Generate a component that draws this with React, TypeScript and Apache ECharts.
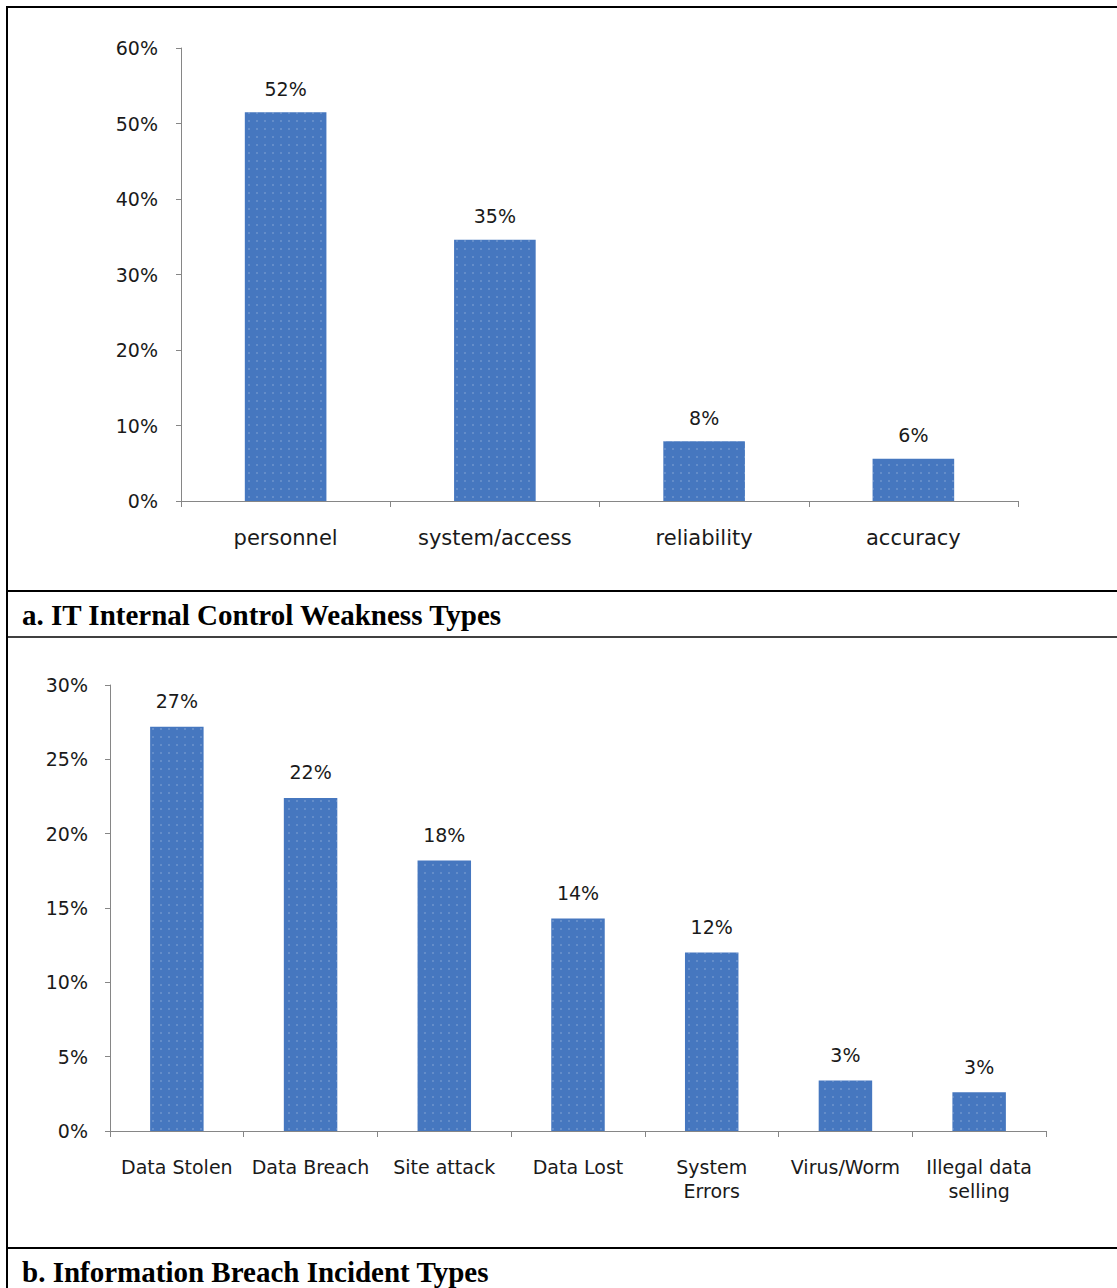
import React, { useEffect, useRef } from "react";
import * as echarts from "echarts";

const catsA = ["personnel", "system/access", "reliability", "accuracy"];
const valsA = [51.5, 34.6, 7.9, 5.6];
const catsB = ["Data Stolen", "Data Breach", "Site attack", "Data Lost", "System\nErrors", "Virus/Worm", "Illegal data\nselling"];
const valsB = [27.2, 22.4, 18.2, 14.3, 12.0, 3.4, 2.6];
const captionA = "a. IT Internal Control Weakness Types";
const captionB = "b. Information Breach Incident Types";

const W = 1117;
const H = 1288;
const FONT = "DejaVu Sans";
const AXIS = "#868686";
const BAR = "#4677BF";
const TXT = "#1a1a1a";
const CAPFONT = 'bold 29px "Liberation Serif", "Times New Roman", serif';

export default function App() {
  const ref = useRef<HTMLDivElement>(null);
  useEffect(() => {
    if (!ref.current) return;
    const chart = echarts.init(ref.current, undefined, { renderer: "svg" });
    const yAxisCommon = (max: number, interval: number, margin: number) => ({
      type: "value",
      min: 0,
      max,
      interval,
      axisLine: { show: true, lineStyle: { color: AXIS, width: 1 } },
      axisTick: { show: true, length: 5, lineStyle: { color: AXIS } },
      splitLine: { show: false },
      axisLabel: { formatter: "{value}%", fontFamily: FONT, fontSize: 19, color: TXT, margin },
    });
    const line = (x1: number, y1: number, x2: number, y2: number, w: number) => ({
      type: "line",
      shape: { x1, y1, x2, y2 },
      style: { stroke: "#000", lineWidth: w },
      silent: true,
    });
    const decal = {
      symbol: "rect",
      symbolSize: 1,
      color: "rgba(255,255,255,0.16)",
      dashArrayX: [2, 6],
      dashArrayY: [2, 6],
      rotation: 0,
    };
    chart.setOption({
      animation: false,
      backgroundColor: "#fff",
      grid: [
        { left: 181, right: W - 1018, top: 48, bottom: H - 501 },
        { left: 110, right: W - 1046, top: 685, bottom: H - 1131 },
      ],
      xAxis: [
        {
          type: "category",
          gridIndex: 0,
          data: catsA,
          axisLine: { lineStyle: { color: AXIS } },
          axisTick: { show: true, length: 6, lineStyle: { color: AXIS } },
          axisLabel: { fontFamily: FONT, fontSize: 21, color: TXT, margin: 26 },
        },
        {
          type: "category",
          gridIndex: 1,
          data: catsB,
          axisLine: { lineStyle: { color: AXIS } },
          axisTick: { show: true, length: 6, lineStyle: { color: AXIS } },
          axisLabel: { fontFamily: FONT, fontSize: 19, lineHeight: 24, color: TXT, margin: 24, interval: 0 },
        },
      ],
      yAxis: [
        { gridIndex: 0, ...yAxisCommon(60, 10, 23) },
        { gridIndex: 1, ...yAxisCommon(30, 5, 22) },
      ],
      series: [
        {
          type: "bar",
          xAxisIndex: 0,
          yAxisIndex: 0,
          data: valsA,
          barWidth: "39%",
          itemStyle: { color: BAR, decal },
          label: {
            show: true,
            position: "top",
            distance: 14,
            fontFamily: FONT,
            fontSize: 19,
            color: TXT,
            formatter: (p: any) => Math.round(p.value) + "%",
          },
        },
        {
          type: "bar",
          xAxisIndex: 1,
          yAxisIndex: 1,
          data: valsB,
          barWidth: "40%",
          itemStyle: { color: BAR, decal },
          label: {
            show: true,
            position: "top",
            distance: 16,
            fontFamily: FONT,
            fontSize: 19,
            color: TXT,
            formatter: (p: any) => Math.round(p.value) + "%",
          },
        },
      ],
      graphic: [
        line(6, 7, W, 7, 2),
        line(7, 6, 7, H, 2),
        line(6, 591, W, 591, 2),
        line(6, 637, W, 637, 1.5),
        line(6, 1248, W, 1248, 2),
        {
          type: "text",
          x: 22,
          y: 615,
          style: { text: captionA, font: CAPFONT, fill: "#000", verticalAlign: "middle" },
        },
        {
          type: "text",
          x: 22,
          y: 1272,
          style: { text: captionB, font: CAPFONT, fill: "#000", verticalAlign: "middle" },
        },
      ],
    });
    return () => chart.dispose();
  }, []);
  return (
    <div
      ref={ref}
      style={{ position: "absolute", left: 0, top: 0, width: W, height: H }}
    />
  );
}
